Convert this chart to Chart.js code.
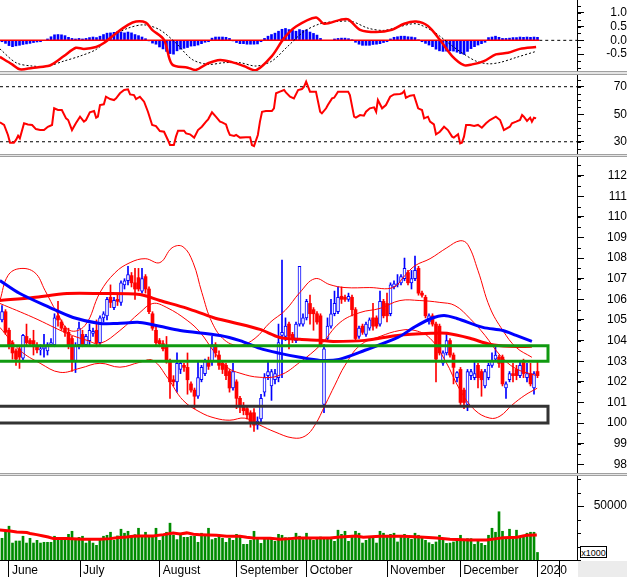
<!DOCTYPE html>
<html>
<head>
<meta charset="utf-8">
<script src="https://cdn.jsdelivr.net/npm/chart.js@4.4.0/dist/chart.umd.min.js"></script>
<style>
  body { margin: 0; background: #fff; }
  #wrap { position: relative; width: 627px; height: 577px; overflow: hidden; background: #fff; font-family: "Liberation Sans", Arial, sans-serif; }
  canvas { position: absolute; left: 0; }
  .sep { position: absolute; left: 0; width: 627px; background: #e4e4e4; border-top: 1px solid #a0a0a0; border-bottom: 1px solid #a0a0a0; box-sizing: border-box; }
  #unit { position: absolute; left: 580px; top: 546px; width: 27px; height: 12px; border: 1px solid #000; font-size: 9px; line-height: 12px; text-align: center; background: #fff; box-sizing: border-box; }
  #corner { position: absolute; left: 578px; top: 561px; width: 49px; height: 16px; background: #ececec; }
</style>
</head>
<body>
<div id="wrap">
  <canvas id="macd" width="627" height="71" style="top:0"></canvas>
  <div class="sep" style="top:71px;height:4px"></div>
  <canvas id="rsi" width="627" height="79" style="top:75px"></canvas>
  <div class="sep" style="top:154px;height:3px"></div>
  <canvas id="price" width="627" height="316" style="top:157px"></canvas>
  <div class="sep" style="top:473px;height:3px"></div>
  <canvas id="vol" width="627" height="101" style="top:476px"></canvas>
  <div id="corner"></div>
  <div id="unit">x1000</div>
</div>
<script>
// daily candles, Jun - Dec 2019 (index 0 = first bar on the left)
const opens = [105.0,105.4,104.5,103.9,103.5,103.6,103.15,104.2,104.0,104.0,
  103.7,103.55,103.6,103.5,103.8,103.8,105.2,104.9,104.6,104.4,
  104.1,103.0,103.8,104.3,103.8,104.0,104.35,104.5,103.9,105.1,
  105.2,106.1,105.6,106.0,105.85,106.7,106.9,107.15,106.8,107.05,
  106.4,107.1,106.5,105.3,104.5,104.0,103.85,103.7,102.95,102.1,
  102.0,102.6,102.8,102.7,101.9,101.6,101.3,102.1,102.4,103.0,
  103.0,103.8,103.3,102.9,102.8,102.5,101.7,102.0,101.2,100.8,
  100.7,100.5,100.5,99.9,100.2,101.5,102.3,101.8,102.1,102.2,
  104.25,104.2,104.8,104.3,104.0,104.8,104.8,105.1,105.8,105.5,
  105.3,105.2,100.9,104.1,104.7,105.3,105.4,106.15,106.1,106.0,
  106.1,105.5,104.2,104.7,104.3,104.6,105.1,105.1,104.8,105.9,
  105.8,105.3,106.6,106.7,106.8,107.0,107.3,106.8,107.0,107.5,
  106.3,106.1,104.9,105.2,104.8,104.7,102.9,103.4,104.0,103.3,
  102.2,102.6,101.6,100.9,102.3,102.2,102.8,102.5,101.8,102.2,
  102.8,103.1,103.2,103.2,101.7,102.1,102.4,102.6,102.3,103.0,
  102.2,102.4,101.7,102.5];
const highs = [105.7,105.5,104.6,104.0,103.6,103.7,104.3,104.8,104.1,104.5,
  103.9,103.8,104.3,103.9,104.1,105.3,105.9,105.0,104.7,104.6,
  104.2,103.9,104.9,104.5,104.3,104.8,104.6,105.0,105.2,105.4,
  106.1,106.7,106.1,106.2,106.9,107.0,107.6,107.3,107.5,107.5,
  107.5,107.2,106.6,105.4,104.7,104.1,104.0,104.2,103.1,102.3,
  103.4,103.0,102.9,103.4,102.0,101.7,103.0,102.8,103.1,103.2,
  104.2,103.9,103.5,103.0,102.9,102.6,102.9,102.1,101.3,101.0,
  100.8,100.6,100.7,100.3,101.4,102.4,103.0,102.6,102.6,104.8,
  107.9,105.1,104.9,104.4,104.9,107.6,105.3,106.0,106.2,105.6,
  105.4,105.3,103.8,105.1,106.0,106.4,106.6,106.6,106.2,106.3,
  106.2,105.6,104.7,104.8,104.9,105.1,105.8,105.2,106.4,106.0,
  106.3,106.8,106.9,107.2,107.2,108.0,107.4,107.4,108.1,107.6,
  106.4,106.2,105.3,105.3,104.9,104.8,103.5,104.3,104.1,103.4,
  102.5,102.7,101.7,102.6,102.6,103.0,102.9,102.6,102.6,102.9,
  103.4,103.8,103.3,103.3,102.0,102.5,102.9,102.8,103.0,103.1,
  102.9,102.9,102.5,103.0];
const lows = [104.9,104.3,103.6,103.1,102.8,102.65,103.0,103.8,103.7,103.3,
  103.4,103.3,103.2,103.3,103.7,103.7,104.7,104.5,104.2,103.6,
  102.5,102.45,103.6,103.7,103.7,103.8,104.2,103.7,103.8,104.9,
  105.0,105.6,105.5,105.7,105.7,106.5,106.7,106.6,106.0,106.4,
  106.3,106.3,105.3,104.5,103.8,103.7,103.5,102.9,101.2,101.8,
  101.5,102.4,102.5,101.4,101.5,100.7,101.2,102.0,102.3,102.6,
  102.8,103.2,102.6,102.4,102.1,101.5,101.6,100.7,100.5,100.4,
  100.2,99.8,99.6,99.7,100.0,101.3,102.1,101.1,101.9,102.0,
  102.2,104.0,103.6,103.9,103.9,104.7,104.7,105.0,104.8,104.5,
  104.8,103.7,100.5,104.0,104.6,105.2,105.3,105.8,105.9,105.9,
  105.2,104.0,104.1,104.3,104.2,104.5,104.5,104.6,104.7,105.1,
  104.9,105.2,106.5,106.6,106.7,106.9,106.7,106.5,106.9,106.2,
  106.1,105.1,104.8,104.7,102.0,103.3,102.8,103.3,103.2,101.9,
  102.0,100.9,100.7,100.6,102.1,102.1,101.7,101.3,101.7,102.1,
  102.7,103.0,102.7,101.8,101.2,102.0,102.0,102.1,102.2,102.2,
  102.0,101.8,101.4,102.2];
const closes = [105.4,104.4,103.8,103.4,103.1,103.2,104.25,103.9,103.85,103.7,
  103.55,103.6,103.7,103.8,103.9,105.1,105.0,104.6,104.4,103.8,
  103.05,103.75,104.6,103.8,104.2,104.5,104.45,103.9,105.1,105.3,
  106.0,105.85,105.95,105.9,106.8,106.9,107.2,106.8,106.5,106.5,
  107.0,106.5,105.4,104.6,103.9,103.85,103.6,102.96,102.0,102.0,
  102.9,102.9,102.7,102.1,101.6,101.3,102.2,102.7,103.0,102.75,
  103.8,103.4,102.8,102.6,102.3,101.7,102.5,101.2,100.8,100.6,
  100.4,100.0,99.9,100.1,101.2,102.2,102.5,102.5,102.4,103.9,
  104.4,104.7,104.2,104.1,104.8,107.6,105.1,105.9,105.3,105.3,
  104.9,103.8,103.6,104.7,105.3,105.8,106.1,106.0,106.0,106.15,
  105.5,104.1,104.6,104.4,104.8,105.0,104.7,104.7,105.9,105.2,
  105.2,106.7,106.75,106.75,107.1,107.5,106.8,107.0,107.4,106.3,
  106.2,105.2,105.2,104.8,103.1,103.4,103.4,104.0,103.3,102.7,
  102.45,101.0,101.0,102.5,102.5,102.4,102.2,102.1,102.5,102.8,
  103.0,103.3,102.9,101.9,101.9,102.4,102.3,102.3,102.8,102.4,
  102.4,101.9,102.4,102.3];

// volume in thousands
const volumes = [20100,27600,31300,15700,17600,17600,22000,15700,20100,15700,
  18200,15700,16400,16400,16400,22000,21000,21000,21000,23800,
  26600,18200,21000,22000,15700,18900,15700,13600,18900,22000,
  22900,25700,18200,22300,28500,24800,26600,22000,23500,29400,
  22000,25700,22000,22000,29400,18200,22900,25700,34100,22900,
  18900,24800,21000,21000,22000,22000,16400,24800,22300,29400,
  18900,20100,22900,20100,16400,20100,18200,23800,21000,14500,
  14500,18200,26600,20100,15400,20100,20100,20700,17300,23800,
  22900,20700,20700,18800,24800,22000,20700,24800,19800,18200,
  19800,21300,20700,20700,20700,17300,27600,23800,26600,17300,
  22900,26600,24800,15700,18200,20700,20700,15700,26600,24800,
  22000,23800,24800,16700,22000,23800,20100,19200,24800,22900,
  21700,18200,16000,14500,16700,22900,19800,15400,15700,16700,
  19800,22900,17300,19800,19800,14500,18200,15400,13600,22900,
  29400,25700,44700,26600,19800,28500,19800,27600,21300,22900,
  24800,25700,25700,7000];

// MACD histogram, one value per bar
const macdHist = [-0.05,-0.11,-0.19,-0.23,-0.2,-0.18,-0.15,-0.13,-0.11,-0.08,
  -0.06,-0.05,0,0.05,0.13,0.2,0.21,0.2,0.17,0.11,
  0.07,0.05,0.07,0.05,0.07,0.1,0.12,0.1,0.15,0.21,
  0.26,0.27,0.29,0.31,0.3,0.27,0.3,0.27,0.21,0.17,
  0.12,0.06,-0.02,-0.1,-0.14,-0.24,-0.31,-0.4,-0.48,-0.5,
  -0.38,-0.32,-0.29,-0.26,-0.21,-0.2,-0.17,-0.12,-0.07,-0.05,
  0.08,0.12,0.12,0.12,0.11,0.07,-0.02,-0.08,-0.12,-0.12,
  -0.14,-0.14,-0.14,-0.13,-0.05,0.07,0.15,0.21,0.26,0.33,
  0.4,0.43,0.39,0.36,0.33,0.39,0.36,0.38,0.3,0.25,
  0.19,0.07,0,0,0,0.05,0.07,0.08,0.08,0.06,
  0.02,-0.07,-0.14,-0.18,-0.18,-0.18,-0.15,-0.14,-0.12,-0.08,
  -0.05,0.05,0.11,0.13,0.15,0.15,0.13,0.12,0.1,0.02,
  -0.05,-0.11,-0.17,-0.23,-0.32,-0.38,-0.4,-0.39,-0.38,-0.39,
  -0.43,-0.48,-0.51,-0.4,-0.3,-0.23,-0.17,-0.12,-0.07,0.1,
  0.12,0.15,0.11,0.07,0.07,0.08,0.1,0.1,0.12,0.11,
  0.12,0.11,0.12,0.11];

// indicator lines read at [bar index, value]
const macdLine = [[-0.6,-0.6],[2.9,-0.87],[5.1,-1.05],[8.6,-1.0],[13.1,-0.93],[14.3,-0.87],[17.7,-0.57],[21.1,-0.27],[23.4,-0.31],[26.9,-0.24],[29.1,-0.1],[32.6,0.26],[36,0.56],[38.3,0.68],[41.1,0.64],[42.9,0.38],[46.3,0.02],[48.6,-0.87],[53.1,-0.99],[55.4,-1.07],[58.9,-0.83],[62.3,-0.71],[65.7,-0.79],[69.1,-0.93],[72.6,-1.08],[77.1,-0.57],[80.6,0.08],[84,0.5],[89.7,0.83],[92,0.6],[96.6,0.74],[98.9,0.76],[102.3,0.38],[106.9,0.3],[111.4,0.38],[114.9,0.6],[118.3,0.68],[121.7,0.52],[125.1,0.02],[128.6,-0.57],[132,-0.9],[134.3,-0.87],[137.7,-0.75],[141.1,-0.51],[144.6,-0.45],[148,-0.31],[152.6,-0.24]];
const macdSignal = [[-0.6,-0.31],[4,-0.81],[8.6,-0.93],[13.1,-0.93],[17.7,-0.75],[22.3,-0.57],[26.9,-0.33],[31.4,0.14],[36,0.44],[40.6,0.56],[45.1,0.38],[49.7,-0.1],[54.3,-0.69],[58.9,-0.87],[63.4,-0.81],[68,-0.81],[72.6,-0.93],[77.1,-0.75],[81.7,-0.21],[86.3,0.32],[90.9,0.6],[95.4,0.68],[100,0.68],[104.6,0.44],[109.1,0.36],[113.7,0.5],[118.3,0.6],[122.9,0.35],[125.1,0.15],[128.6,-0.2],[132,-0.5],[135.4,-0.75],[138.9,-0.85],[142.3,-0.8],[146.9,-0.62],[152.6,-0.4]];
const rsiLine = [[-0.6,44.1],[0.6,42.2],[1.7,34.9],[2.3,29.3],[3.4,29.3],[4,31.3],[4.6,34.4],[5.1,32.5],[6.3,43.4],[7.4,42.6],[8.6,42.2],[9.7,39.2],[10.9,38.5],[12,38.5],[13.1,40.9],[14.3,42.2],[14.9,54.3],[16,53.1],[17.1,53.1],[18.3,47],[18.9,45.8],[20,38.5],[21.1,43.4],[22.3,48.2],[23.4,44.6],[24,45.8],[25.1,51.4],[26.3,52.3],[26.9,47.5],[27.4,48.2],[28,56.7],[29.1,57.2],[29.7,62.7],[30.9,61],[32,60.3],[32.6,61.5],[33.7,65.2],[34.9,67.6],[36,68.1],[36.6,64.4],[37.7,63.9],[38.3,61],[39.4,62.7],[40.6,59.1],[41.7,51.8],[42.9,42.2],[44,41.4],[45.1,37.8],[46.3,37.3],[47.4,31.3],[48,27.6],[49.1,27.6],[49.7,33.7],[50.3,38],[52,38],[52.6,36.1],[53.7,35.4],[54.9,33],[56,38.5],[57.1,40.9],[58.3,44.6],[58.9,46.3],[60,51.4],[61.1,48.2],[62.3,44.6],[62.9,44.1],[64,42.6],[64.6,37.8],[65.1,34.9],[66.3,34.2],[66.9,34.9],[68,33],[69.7,33.2],[70.9,33.2],[71.4,27.6],[72,26.9],[73.1,34.9],[73.7,44.6],[74.3,51.8],[75.4,52.3],[77.1,52.3],[77.7,54.3],[78.3,65.2],[79.4,66.4],[80.6,67.6],[81.1,65.9],[82.3,62.7],[83.4,61.5],[84.6,67.6],[85.7,68.3],[86.3,70],[86.9,73.6],[88,66.4],[89.7,66.4],[90.9,51.8],[91.4,50.6],[92.6,54.3],[93.1,56.7],[94.3,61.5],[94.9,62],[96,66.4],[98.9,66.4],[99.4,63.9],[100.6,48.2],[101.1,47.5],[102.3,49.4],[103.4,48.9],[104,51.8],[105.1,54.3],[106.3,55],[106.9,51.8],[107.4,60.3],[108.6,54.3],[109.7,56.7],[110.9,62.7],[112,64.4],[113.7,64.7],[114.3,65.2],[114.9,66.9],[115.4,62],[116.6,63.5],[117.7,63.9],[118.9,54.3],[120,53.1],[120.6,47],[121.7,48.2],[122.3,44.6],[123.4,42.6],[124,35.4],[125.1,37.3],[126.3,40.9],[127.4,38.5],[128.6,33.7],[129.1,33],[130.3,35.4],[130.9,28.8],[131.4,29.3],[132,33.7],[132.6,42.2],[133.7,42.2],[134.9,41.4],[136,42.2],[137.1,40.2],[138.3,43.4],[139.4,45.8],[141.1,48.2],[142.3,45.8],[143.4,38.5],[145.1,40.9],[145.7,43.4],[146.9,44.6],[148,45.8],[148.6,49.4],[149.1,48.2],[150,45.1],[150.9,47.5],[151.4,44.6],[152,47.5],[152.6,47]];

const maBlue = [[-0.6,106.91],[5.1,106.28],[13.7,105.6],[20.3,105.12],[28,104.83],[32.9,104.83],[39.4,104.88],[45.1,104.69],[50.9,104.49],[62.3,104.25],[68,104.0],[73.7,103.62],[79.4,103.38],[85.1,103.19],[90.9,103.04],[96.3,103.09],[103.7,103.53],[113.1,104.15],[117.7,104.64],[122.6,105.07],[126.3,105.22],[130,105.07],[137.4,104.64],[143.1,104.49],[146.9,104.25],[151.4,103.96]];
const maRed = [[-0.6,105.94],[8.9,106.09],[18.6,106.28],[28,106.28],[39.4,106.23],[45.1,105.94],[52.9,105.56],[60.3,105.12],[66,104.88],[73.7,104.54],[79.4,104.15],[85.1,104.06],[90.9,104.01],[94.6,103.96],[103.7,104.01],[113.1,104.25],[122.6,104.35],[127.1,104.35],[133.7,104.11],[139.4,103.82],[144.9,103.72],[151.4,103.72]];
const bbUpper = [[-0.6,105.94],[1.7,107.15],[5.1,107.49],[9.4,107.29],[12.3,106.43],[15.7,105.36],[19.4,104.49],[23.7,104.73],[28,106.33],[32.3,107.29],[36.6,107.78],[40.9,107.97],[45.1,107.78],[48.6,108.5],[51.7,108.55],[54.6,107.78],[57.1,106.33],[60,104.88],[63.7,104.01],[68,103.77],[72.3,104.11],[76.6,104.88],[80.9,105.46],[85.1,106.33],[89.4,107.0],[93.7,106.71],[98,106.57],[105.1,106.57],[111.7,106.57],[115.1,107.15],[118,107.63],[122.3,107.97],[127.1,108.5],[130.9,108.84],[133.1,108.65],[136,107.39],[139.4,105.6],[143.1,104.49],[146.9,103.67],[151.4,103.19]];
const bbMiddle = [[-0.6,105.8],[8.9,105.12],[18.6,104.35],[24.3,104.01],[28,103.86],[33.7,104.49],[39.4,105.36],[43.1,105.8],[47.1,105.6],[52.9,104.98],[56.6,104.4],[60.3,103.53],[64.3,102.71],[68,102.42],[73.7,102.22],[79.4,102.32],[85.1,102.95],[90.9,103.77],[96.6,104.88],[102.3,105.36],[108,105.56],[113.7,105.94],[119.4,105.94],[125.1,105.85],[129.4,105.7],[133.7,105.07],[138,104.25],[142.3,103.29],[146.6,102.66],[152.3,102.32]];
const bbLower = [[-0.6,104.64],[5.1,103.53],[10.9,102.9],[16.6,102.46],[22.3,102.66],[28,102.9],[33.7,102.71],[39.4,102.95],[43.1,103.04],[47.4,102.17],[51.7,101.11],[56.6,100.53],[60.9,100.24],[65.1,100.14],[69.4,100.24],[73.7,99.9],[78,99.57],[83.1,99.28],[86.6,99.37],[89.4,99.9],[92.3,100.87],[95.1,101.84],[98,102.8],[102.3,103.77],[108,104.2],[113.7,104.49],[118,104.49],[122.3,104.11],[126.6,103.04],[130.9,101.59],[135.1,100.63],[139.4,100.24],[142.3,100.34],[145.7,100.87],[149.4,101.35],[152.9,101.69]];
const volAvg = [[-0.6,27900],[2.3,26900],[4.2,26000],[7.1,25400],[8,24500],[9.9,23500],[11.8,22300],[13.2,21300],[14.7,19800],[18.5,19800],[23.2,19200],[28,19200],[30.9,19800],[32.8,20700],[35.6,21300],[37.5,22000],[39.4,22300],[43.2,22300],[46.1,23500],[48.9,25100],[50.9,24100],[52.8,25100],[54.7,23800],[56.6,23500],[61.3,22900],[64.2,22000],[68,22000],[69.9,21000],[71.8,20400],[76.6,20200],[79.4,19200],[82.3,19800],[84.2,20400],[93.7,20400],[96.6,21300],[101.3,22300],[103.2,21000],[108,22000],[114.7,22000],[119.4,21300],[124.2,20400],[128,19200],[133.7,18500],[138.5,18500],[141.3,19800],[143.2,20700],[147.1,21000],[149.9,22900],[152.8,23200]];

// support / resistance zones on the price panel
const greenZone = [103.0, 103.75];
const blackZone = [100.0, 100.82];
const zoneEnd = 156;

const rsiLevels = [70, 30];
const monthNames = ['June', 'July', 'August', 'September', 'October', 'November', 'December', '2020', ''];
const monthPos = [2, 22.3, 45.1, 67.1, 87.1, 110, 130.9, 152.9, 159.4];

const priceTicks = [98,99,100,101,102,103,104,105,106,107,108,109,110,111,112];
const rsiTicks = [30, 40, 50, 60, 70];
const macdTicks = [-0.5, 0, 0.5, 1.0];
const volTicks = [50000];

const XMIN = -0.5714, XMAX = 164.2857;
const FONT = { family: 'Liberation Sans, Arial, sans-serif', size: 12 };
const RED = '#ff0000', BLUE = '#0000ff';

Chart.register({
  id: 'minorTicks',
  afterDraw(chart, args, opts) {
    if (!opts || !opts.step) return;
    const s = chart.scales.y, ctx = chart.ctx;
    const n0 = Math.ceil(s.min / opts.step), n1 = Math.floor(s.max / opts.step);
    ctx.save();
    ctx.strokeStyle = '#000';
    ctx.lineWidth = 1;
    ctx.beginPath();
    for (let n = n0; n <= n1; n++) {
      const y = Math.round(s.getPixelForValue(n * opts.step)) + 0.5;
      ctx.moveTo(s.left, y);
      ctx.lineTo(s.left + 4, y);
    }
    ctx.stroke();
    ctx.restore();
  }
});

function rightAxis(min, max, majors, pad, fmt) {
  return {
    position: 'right', min, max,
    afterBuildTicks: s => { s.ticks = majors.map(v => ({ value: v })); },
    afterFit: s => { s.width = 50; s.paddingTop = 0; s.paddingBottom = 0; },
    grid: { drawOnChartArea: false, tickLength: 7, tickColor: '#000' },
    border: { color: '#000' },
    ticks: { crossAlign: 'far', padding: pad, color: '#000', font: FONT, callback: fmt }
  };
}

const hiddenX = { type: 'linear', min: XMIN, max: XMAX, display: false, offset: false };

function opts(y, step, x) {
  return {
    responsive: false, animation: false, events: [],
    layout: { padding: 0 },
    plugins: { legend: { display: false }, tooltip: { enabled: false }, minorTicks: { step } },
    scales: { x: x || hiddenX, y }
  };
}

const pts = arr => arr.map(([x, y]) => ({ x, y }));
const line = (data, color, width, extra) => Object.assign({
  type: 'line', data: pts(data), borderColor: color, borderWidth: width,
  pointRadius: 0, tension: 0.3, fill: false
}, extra || {});
const box = z => [[-2, z[0]], [zoneEnd, z[0]], [zoneEnd, z[1]], [-2, z[1]], [-2, z[0]]];

// MACD
new Chart(document.getElementById('macd'), {
  type: 'bar',
  data: { datasets: [
    line(macdLine, RED, 2.5),
    line(macdSignal, '#000', 1, { borderDash: [2, 2] }),
    line([[-0.6, 0], [153.5, 0]], RED, 1.5, { tension: 0 }),
    line([[153.5, 0], [XMAX, 0]], '#000', 1, { tension: 0, borderDash: [3, 3] }),
    { type: 'bar', data: macdHist.map((v, i) => ({ x: i, y: v })), backgroundColor: BLUE, barThickness: 2, grouped: false }
  ] },
  options: opts(rightAxis(-1.11, 1.46, macdTicks, 18, v => v.toFixed(1)), 0.25)
});

// RSI
new Chart(document.getElementById('rsi'), {
  type: 'line',
  data: { datasets: [
    line(rsiLine, RED, 2, { tension: 0 }),
    ...rsiLevels.map(l => line([[XMIN, l], [XMAX, l]], '#000', 1, { tension: 0, borderDash: [3, 3] }))
  ] },
  options: opts(rightAxis(21.1, 78.5, rsiTicks, 26, v => String(v)), 5)
});

// price candles
const idx = closes.map((_, i) => i);
const isUp = i => closes[i] >= opens[i];
new Chart(document.getElementById('price'), {
  type: 'bar',
  data: { datasets: [
    line(box(greenZone), '#109a10', 3, { tension: 0, borderJoinStyle: 'miter' }),
    line(box(blackZone), '#333333', 3, { tension: 0, borderJoinStyle: 'miter' }),
    line(maBlue, BLUE, 3),
    line(maRed, RED, 3),
    line(bbUpper, RED, 1, { tension: 0.4 }),
    line(bbMiddle, RED, 1, { tension: 0.4 }),
    line(bbLower, RED, 1, { tension: 0.4 }),
    { type: 'bar', data: idx.filter(isUp).map(i => ({ x: i, y: [opens[i], closes[i]] })),
      backgroundColor: '#fff', borderColor: BLUE, borderWidth: 1, borderSkipped: false,
      barThickness: 3, minBarLength: 1, grouped: false },
    { type: 'bar', data: idx.filter(i => !isUp(i)).map(i => ({ x: i, y: [opens[i], closes[i]] })),
      backgroundColor: RED, barThickness: 3, minBarLength: 1, grouped: false },
    { type: 'bar', data: idx.map(i => ({ x: i, y: [lows[i], highs[i]] })),
      backgroundColor: idx.map(i => isUp(i) ? BLUE : RED), barThickness: 1, grouped: false }
  ] },
  options: opts(rightAxis(97.58, 112.9, priceTicks, 19, v => String(v)), 0.5)
});

// volume
new Chart(document.getElementById('vol'), {
  type: 'bar',
  data: { datasets: [
    line(volAvg, RED, 3, { tension: 0 }),
    { type: 'bar', data: volumes.map((v, i) => ({ x: i, y: v })), backgroundColor: '#008c00', barThickness: 2, grouped: false }
  ] },
  options: opts(rightAxis(0, 77800, volTicks, 6, v => String(v)), 12500, {
    type: 'linear', min: XMIN, max: XMAX, offset: false,
    afterBuildTicks: s => { s.ticks = monthPos.map(v => ({ value: v })); },
    afterFit: s => { s.height = 17; s.paddingLeft = 0; s.paddingRight = 0; },
    grid: { drawOnChartArea: false, offset: false, tickLength: 17, tickColor: '#000' },
    border: { color: '#000' },
    ticks: { align: 'start', labelOffset: 3, padding: -14, maxRotation: 0, autoSkip: false,
      color: '#000', font: FONT, callback: (v, i) => monthNames[i] }
  })
});
</script>
</body>
</html>
